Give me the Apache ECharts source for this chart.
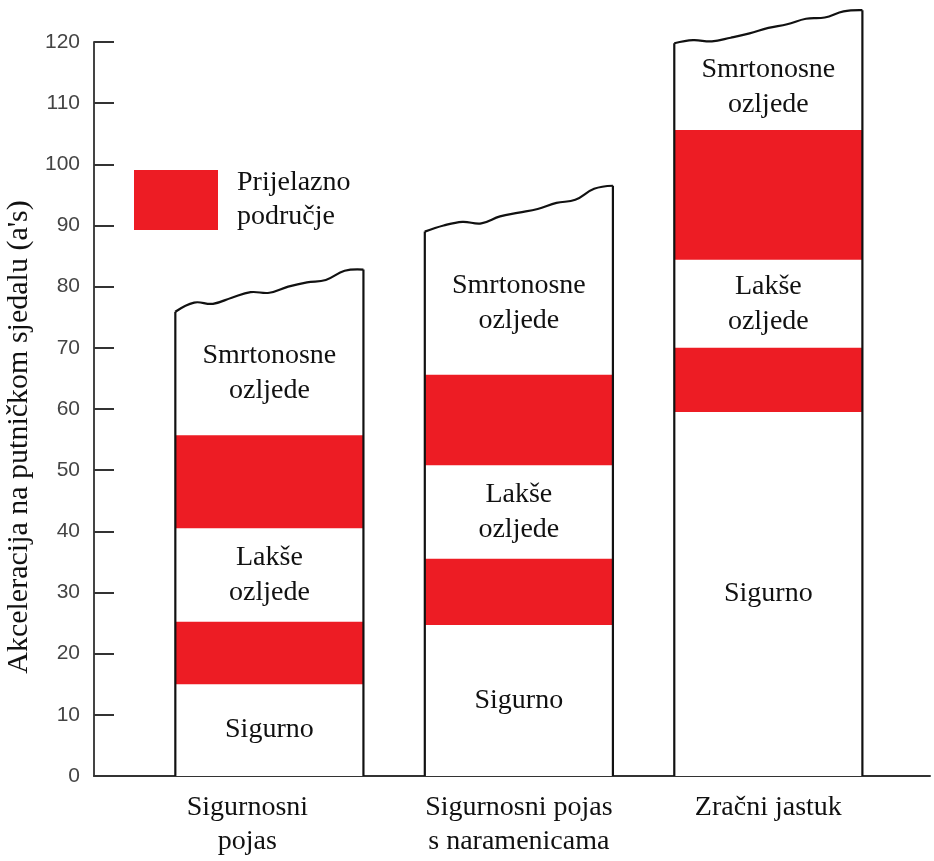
<!DOCTYPE html>
<html>
<head>
<meta charset="utf-8">
<script src="https://cdn.jsdelivr.net/npm/echarts@6/dist/echarts.min.js"></script>
<style>
  html, body { margin: 0; padding: 0; background: #fff; }
  #chart { width: 934px; height: 861px; }
</style>
</head>
<body>
<div id="chart"></div>
<script>
// kategorije (stupci)
var categories = ['Sigurnosni\npojas', 'Sigurnosni pojas\ns naramenicama', 'Zračni jastuk'];
// prijelazna područja (crveno), donje i gornje
var lowerRedFrom = [15, 24.7, 59.5];
var lowerRedTo = [25.2, 35.5, 70];
var upperRedFrom = [40.5, 50.8, 84.4];
var upperRedTo = [55.7, 65.6, 105.6];
// valoviti vrh stupca, 11 točaka s lijeva na desno
var topEdge1 = [75.9, 77.4, 77.2, 78.2, 79.1, 79.0, 80.0, 80.7, 81.1, 82.6, 82.8];
var topEdge2 = [89.0, 90.0, 90.6, 90.35, 91.5, 92.1, 92.7, 93.7, 94.2, 96.0, 96.5];
var topEdge3 = [119.8, 120.3, 120.1, 120.7, 121.4, 122.3, 122.9, 123.8, 124.0, 125.0, 125.2];
var topEdges = [topEdge1, topEdge2, topEdge3];
var zoneNames = ['Sigurno', 'Lakše\nozljede', 'Smrtonosne\nozljede'];
var legendName = 'Prijelazno\npodručje';

var serif = "'Liberation Serif', 'Times New Roman', serif";
var red = '#ED1C24';

var myChart = echarts.init(document.getElementById('chart'));

function renderColumn(params, api) {
    var i = params.dataIndex;
    var x = api.value(0);
    var halfW = 0.377;
    var top = topEdges[i];
    var left = api.coord([x - halfW, 0])[0];
    var right = api.coord([x + halfW, 0])[0];
    var base = api.coord([x, 0])[1];
    var w = right - left;

    var wave = top.map(function (v, k) {
        return [left + w * k / (top.length - 1), api.coord([x, v])[1]];
    });
    var outline = [[left, base]].concat(wave).concat([[right, base]]);
    var edgeStyle = { fill: null, stroke: '#111', lineWidth: 2.2 };

    function band(from, to) {
        var y1 = api.coord([x, to])[1];
        var y0 = api.coord([x, from])[1];
        return {
            type: 'rect',
            shape: { x: left, y: y1, width: w, height: y0 - y1 },
            style: { fill: red }
        };
    }
    function label(text, from, to) {
        var y = api.coord([x, (from + to) / 2])[1];
        return {
            type: 'text',
            style: {
                text: text, x: (left + right) / 2, y: y,
                align: 'center', verticalAlign: 'middle',
                fontSize: 28, lineHeight: 35, fontFamily: serif, fill: '#111'
            }
        };
    }

    var minTop = Math.min.apply(null, top);
    return {
        type: 'group',
        children: [
            { type: 'polygon', shape: { points: outline }, style: { fill: '#fff' } },
            band(api.value(1), api.value(2)),
            band(api.value(3), api.value(4)),
            label(zoneNames[0], 0, api.value(1)),
            label(zoneNames[1], api.value(2), api.value(3)),
            label(zoneNames[2], api.value(4), minTop),
            { type: 'polyline', shape: { points: [[left, base], wave[0]] }, style: edgeStyle },
            { type: 'polyline', shape: { points: wave, smooth: 0.4 }, style: edgeStyle },
            { type: 'polyline', shape: { points: [wave[wave.length - 1], [right, base]] }, style: edgeStyle }
        ]
    };
}

var seriesData = categories.map(function (c, i) {
    return [i + 1, lowerRedFrom[i], lowerRedTo[i], upperRedFrom[i], upperRedTo[i]];
});

var option = {
    backgroundColor: '#fff',
    animation: false,
    grid: { left: 94, right: 4, top: 42, bottom: 85, outerBoundsMode: 'none', containLabel: false },
    legend: {
        left: 134,
        top: 166,
        padding: 0,
        itemWidth: 84,
        itemHeight: 60,
        data: [{ name: legendName, icon: 'rect' }],
        textStyle: {
            fontSize: 28, fontFamily: serif, color: '#111',
            lineHeight: 34, padding: [0, 0, 0, 14]
        }
    },
    xAxis: {
        type: 'value',
        min: 0.297,
        max: 3.648,
        splitLine: { show: false },
        axisTick: { show: false },
        axisLine: { show: true, lineStyle: { color: '#333', width: 2 } },
        axisLabel: {
            customValues: [1, 2, 3],
            formatter: function (v) {
                var idx = Math.round(v) - 1;
                // prvi natpis je u originalu malo pomaknut ulijevo
                return idx === 0 ? '{first|' + categories[idx] + '}' : categories[idx];
            },
            margin: 15,
            fontSize: 28,
            lineHeight: 34,
            fontFamily: serif,
            color: '#111',
            verticalAlign: 'top',
            rich: {
                first: {
                    fontSize: 28, lineHeight: 34, fontFamily: serif, color: '#111',
                    padding: [0, 44, 0, 0]
                }
            }
        }
    },
    yAxis: {
        type: 'value',
        min: 0,
        max: 120,
        interval: 10,
        name: "Akceleracija na putničkom sjedalu (a's)",
        nameLocation: 'middle',
        nameGap: 49,
        nameTextStyle: {
            fontSize: 30, fontFamily: serif, color: '#111',
            padding: [0, 56, 0, 0]
        },
        splitLine: { show: false },
        axisLine: { show: true, lineStyle: { color: '#444', width: 2 } },
        axisTick: { show: true, inside: true, length: 20, lineStyle: { color: '#333', width: 2 } },
        axisLabel: {
            margin: 14,
            fontSize: 21,
            fontFamily: "'Liberation Sans', Arial, sans-serif",
            color: '#444'
        }
    },
    series: [{
        name: legendName,
        type: 'custom',
        clip: false,
        itemStyle: { color: red },
        renderItem: renderColumn,
        data: seriesData
    }]
};

myChart.setOption(option);
window.addEventListener('resize', function () { myChart.resize(); });
</script>
</body>
</html>
